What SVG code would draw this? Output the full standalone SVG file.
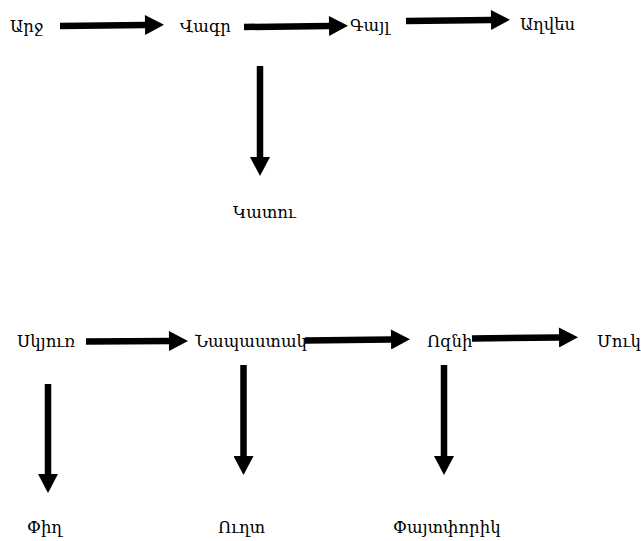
<svg xmlns="http://www.w3.org/2000/svg" width="641" height="541" viewBox="0 0 641 541">
<style>
text{font-family:"DejaVu Serif","Noto Serif",serif;font-size:16.5px;fill:#000}
.c line{stroke:#000;stroke-width:6.5;marker-end:url(#ah)}
</style>
<defs>
<marker id="ah" markerUnits="userSpaceOnUse" markerWidth="20" markerHeight="20" refX="0" refY="10" orient="auto" viewBox="0 0 19 20">
<path d="M0,0 L19,10 L0,20 z" fill="#000"/>
</marker>
</defs>
<rect width="641" height="541" fill="#fff"/>
<g class="c" id="connectors">
<line x1="60" y1="26" x2="145" y2="25"/>
<line x1="244" y1="27" x2="329" y2="26"/>
<line x1="406" y1="21" x2="491" y2="20"/>
<line x1="260" y1="66" x2="260" y2="157"/>
<line x1="86" y1="341.5" x2="169" y2="341"/>
<line x1="305" y1="340.5" x2="391" y2="339.5"/>
<line x1="472" y1="338.5" x2="559" y2="337.5"/>
<line x1="48" y1="384" x2="48" y2="474"/>
<line x1="243.5" y1="365" x2="243.5" y2="456"/>
<line x1="444" y1="365" x2="444" y2="456"/>
</g>
<g id="n1"><text x="10" y="32">Արջ</text></g>
<g id="n2"><text x="180" y="32">Վագր</text></g>
<g id="n3"><text x="350" y="31">Գայլ</text></g>
<g id="n4"><text x="520" y="30">Աղվես</text></g>
<g id="n5"><text x="233" y="218">Կատու</text></g>
<g id="n6"><text x="17" y="347">Սկյուռ</text></g>
<g id="n7"><text x="195" y="347">Նապաստակ</text></g>
<g id="n8"><text x="427" y="347">Ոզնի</text></g>
<g id="n9"><text x="597" y="347">Մուկ</text></g>
<g id="n10"><text x="27" y="533">Փիղ</text></g>
<g id="n11"><text x="218" y="533">Ուղտ</text></g>
<g id="n12"><text x="393" y="533">Փայտփորիկ</text></g>
</svg>
